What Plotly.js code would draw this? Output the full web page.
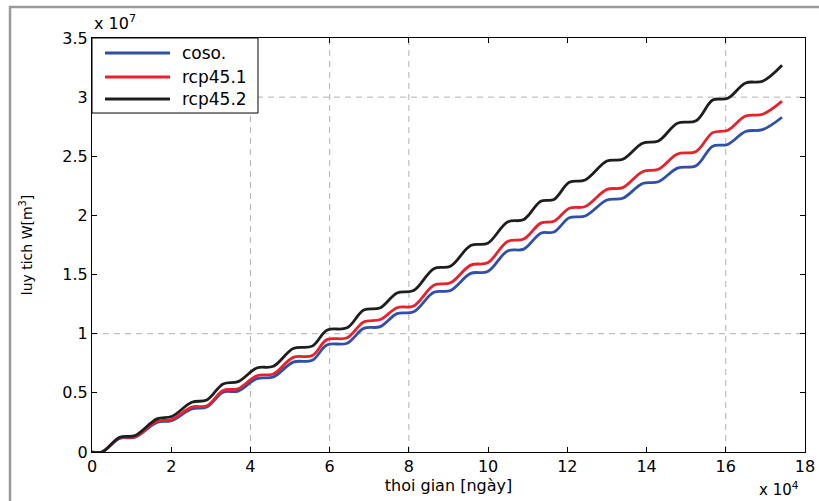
<!DOCTYPE html>
<html>
<head>
<meta charset="utf-8">
<script src="https://cdn.plot.ly/plotly-3.0.1.min.js"></script>
<style>
html,body{margin:0;padding:0;background:#fff;}
#chart{width:819px;height:501px;}
</style>
</head>
<body>
<div id="chart"></div>
<script>
// time [days]
const days = [0, 2500, 7000, 10900, 16400, 20100, 25200, 29000, 33100, 36900,
  41600, 45800, 50800, 55600, 59300, 64400, 68600, 72800, 77000, 81200,
  86300, 90500, 95600, 99900, 104900, 109000, 113300, 116600, 120500, 124500,
  130000, 134000, 139000, 143000, 147800, 152500, 156700, 160500, 165000, 169300, 174200];

// cumulative volume W [m3]
const coso = [0, 0, 1.15e6, 1.25e6, 2.5e6, 2.65e6, 3.65e6, 3.8e6, 5.05e6, 5.15e6,
  6.2e6, 6.35e6, 7.6e6, 7.75e6, 9.05e6, 9.2e6, 10.45e6, 10.6e6, 11.7e6, 11.85e6,
  13.5e6, 13.65e6, 15.1e6, 15.25e6, 17.0e6, 17.15e6, 18.5e6, 18.6e6, 19.8e6, 19.95e6,
  21.3e6, 21.45e6, 22.7e6, 22.85e6, 24.0e6, 24.2e6, 25.85e6, 26.0e6, 27.1e6, 27.25e6, 28.3e6];

const rcp451 = [0, 0, 1.2e6, 1.3e6, 2.6e6, 2.75e6, 3.8e6, 3.9e6, 5.2e6, 5.35e6,
  6.45e6, 6.6e6, 8.0e6, 8.15e6, 9.5e6, 9.65e6, 11.0e6, 11.2e6, 12.2e6, 12.35e6,
  14.1e6, 14.3e6, 15.8e6, 16.0e6, 17.8e6, 18.0e6, 19.35e6, 19.5e6, 20.6e6, 20.75e6,
  22.2e6, 22.35e6, 23.7e6, 23.9e6, 25.2e6, 25.4e6, 27.0e6, 27.2e6, 28.4e6, 28.55e6, 29.66e6];

const rcp452 = [0, 0, 1.25e6, 1.4e6, 2.8e6, 3.0e6, 4.2e6, 4.4e6, 5.75e6, 5.95e6,
  7.1e6, 7.25e6, 8.75e6, 8.95e6, 10.3e6, 10.5e6, 12.0e6, 12.2e6, 13.45e6, 13.65e6,
  15.5e6, 15.7e6, 17.45e6, 17.65e6, 19.45e6, 19.65e6, 21.2e6, 21.35e6, 22.8e6, 23.0e6,
  24.6e6, 24.75e6, 26.1e6, 26.3e6, 27.8e6, 28.0e6, 29.75e6, 29.9e6, 31.2e6, 31.35e6, 32.7e6];

const seriesNames = ['coso.', 'rcp45.1', 'rcp45.2'];
const seriesColors = ['#2f4fa8', '#e8212b', '#1e1e1e'];

const xTickVals = [0, 20000, 40000, 60000, 80000, 100000, 120000, 140000, 160000, 180000];
const xTickText = ['0', '2', '4', '6', '8', '10', '12', '14', '16', '18'];
const yTickVals = [0, 5e6, 10e6, 15e6, 20e6, 25e6, 30e6, 35e6];
const yTickText = ['0', '0.5', '1', '1.5', '2', '2.5', '3', '3.5'];
// grid lines visible in the reference
const gridX = [40000, 60000, 80000, 160000];
const gridY = [10e6, 30e6];

const ys = [coso, rcp451, rcp452];
const traces = ys.map((y, i) => ({
  x: days, y: y, type: 'scatter', mode: 'lines', name: seriesNames[i],
  line: {color: seriesColors[i], width: 2.8, shape: 'spline', smoothing: 1}
}));

const fontFam = 'DejaVu Sans, Verdana, sans-serif';
const axisCommon = {
  showline: true, linecolor: '#000', linewidth: 1, mirror: 'ticks',
  ticks: 'inside', ticklen: 5, tickcolor: '#000',
  showgrid: false, zeroline: false,
  tickfont: {family: fontFam, size: 16, color: '#000'}
};

const gridStyle = {color: '#b0b0b0', width: 1, dash: '6px,5px'};
const shapes = [];
gridX.forEach(v => shapes.push({type: 'line', xref: 'x', yref: 'paper', x0: v, x1: v, y0: 0, y1: 1, layer: 'below', line: gridStyle}));
gridY.forEach(v => shapes.push({type: 'line', xref: 'paper', yref: 'y', x0: 0, x1: 1, y0: v, y1: v, layer: 'below', line: gridStyle}));
// outer figure frame
shapes.push({type: 'path', xref: 'paper', yref: 'paper',
  path: 'M -0.115 -0.12 L -0.115 1.075 L 1.03 1.075', line: {color: '#9a9a9a', width: 2.5}});
// legend box
shapes.push({type: 'rect', xref: 'paper', yref: 'paper', x0: 0, x1: 0.2328, y0: 0.8188, y1: 1,
  fillcolor: '#fff', line: {color: '#000', width: 1}});
const legRowY = [0.9638, 0.9058, 0.8527];
const annotations = [];
seriesNames.forEach((n, i) => {
  shapes.push({type: 'line', xref: 'paper', yref: 'paper', x0: 0.0182, x1: 0.1094,
    y0: legRowY[i], y1: legRowY[i], line: {color: seriesColors[i], width: 2.8}});
  annotations.push({xref: 'paper', yref: 'paper', x: 0.1234, y: legRowY[i], xanchor: 'left', yanchor: 'middle',
    text: n, showarrow: false, font: {family: fontFam, size: 17, color: '#000'}});
});
annotations.push({xref: 'paper', yref: 'paper', x: 0, y: 1, xanchor: 'left', yanchor: 'bottom', yshift: 3,
  text: 'x 10<sup>7</sup>', showarrow: false, font: {family: fontFam, size: 16, color: '#000'}});
annotations.push({xref: 'paper', yref: 'paper', x: 0.994, y: 0, xanchor: 'right', yanchor: 'top', yshift: -25,
  text: 'x 10<sup>4</sup>', showarrow: false, font: {family: fontFam, size: 15, color: '#000'}});

const layout = {
  width: 819, height: 501,
  margin: {l: 92, r: 14, t: 38, b: 49},
  paper_bgcolor: '#fff', plot_bgcolor: '#fff',
  showlegend: false,
  xaxis: Object.assign({}, axisCommon, {
    range: [0, 180000], tickmode: 'array', tickvals: xTickVals, ticktext: xTickText,
    title: {text: 'thoi gian [ngày]', font: {family: fontFam, size: 16, color: '#000'}, standoff: 4}
  }),
  yaxis: Object.assign({}, axisCommon, {
    range: [0, 35e6], tickmode: 'array', tickvals: yTickVals, ticktext: yTickText,
    title: {text: 'luy tich W[m<sup>3</sup>]', font: {family: fontFam, size: 14, color: '#000'}, standoff: 26}
  }),
  annotations: annotations,
  shapes: shapes
};

Plotly.newPlot('chart', traces, layout, {displayModeBar: false, staticPlot: true});
</script>
</body>
</html>
